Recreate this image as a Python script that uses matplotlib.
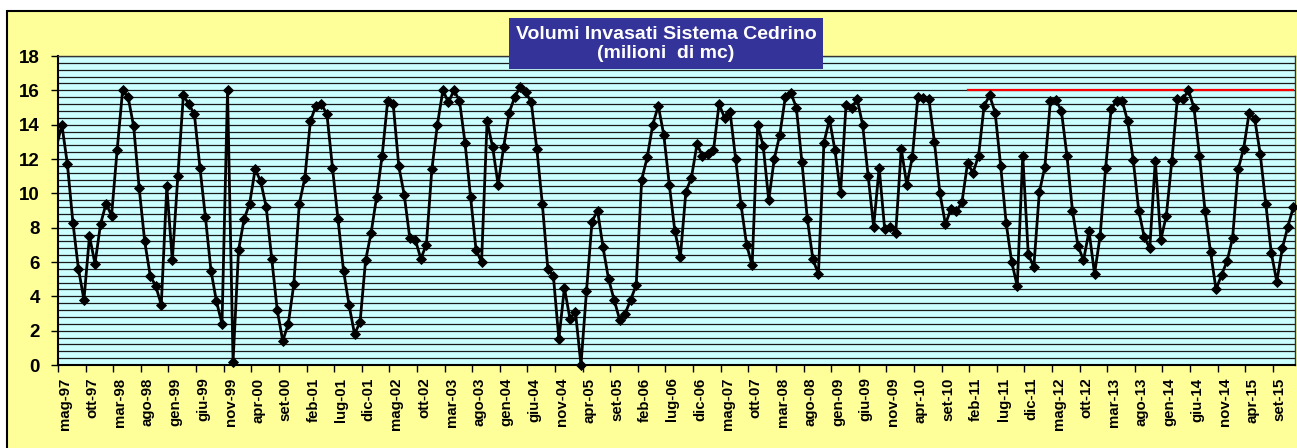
import numpy as np
import matplotlib
matplotlib.use('Agg')
import matplotlib.pyplot as plt
from matplotlib.patches import Rectangle
from matplotlib.ticker import MultipleLocator

plt.rcParams['font.family'] = ['Liberation Sans', 'DejaVu Sans']
plt.rcParams['font.weight'] = 'bold'

# =============================================================================
# data (milioni di mc), one value per month, first value = apr-97
# =============================================================================
volumi = [12.7,
    14.0, 11.7, 8.3, 5.6, 3.8, 7.5, 5.9, 8.2, 9.4, 8.7,
    12.5, 16.0, 15.6, 13.9, 10.3, 7.2, 5.2, 4.6, 3.5, 10.4,
    6.1, 11.0, 15.7, 15.2, 14.6, 11.5, 8.6, 5.5, 3.7, 2.4,
    16.0, 0.2, 6.7, 8.5, 9.4, 11.4, 10.7, 9.2, 6.2, 3.2,
    1.4, 2.4, 4.7, 9.4, 10.9, 14.2, 15.1, 15.2, 14.6, 11.5,
    8.5, 5.5, 3.5, 1.8, 2.5, 6.1, 7.7, 9.8, 12.2, 15.4,
    15.2, 11.6, 9.9, 7.4, 7.3, 6.2, 7.0, 11.4, 14.0, 16.0,
    15.3, 16.0, 15.4, 12.95, 9.8, 6.7, 6.0, 14.2, 12.7, 10.5,
    12.7, 14.7, 15.6, 16.2, 15.9, 15.3, 12.6, 9.4, 5.6, 5.2,
    1.5, 4.5, 2.7, 3.1, 0.0, 4.3, 8.35, 9.0, 6.85, 5.0,
    3.8, 2.65, 3.0, 3.8, 4.65, 10.8, 12.1, 14.0, 15.1, 13.4,
    10.5, 7.8, 6.3, 10.1, 10.9, 12.85, 12.2, 12.3, 12.5, 15.2,
    14.4, 14.75, 12.0, 9.3, 7.0, 5.8, 14.0, 12.75, 9.6, 12.0,
    13.4, 15.6, 15.85, 15.0, 11.85, 8.5, 6.15, 5.3, 12.95, 14.3,
    12.5, 10.0, 15.15, 14.95, 15.5, 14.0, 11.0, 8.05, 11.5, 7.9,
    8.05, 7.7, 12.6, 10.5, 12.1, 15.6, 15.55, 15.5, 13.0, 10.0,
    8.2, 9.1, 8.95, 9.5, 11.75, 11.2, 12.2, 15.1, 15.7, 14.7,
    11.6, 8.25, 6.0, 4.6, 12.2, 6.45, 5.7, 10.05, 11.55, 15.35,
    15.45, 14.8, 12.2, 9.0, 6.95, 6.1, 7.8, 5.3, 7.5, 11.45,
    14.9, 15.4, 15.4, 14.2, 11.95, 9.0, 7.45, 6.8, 11.9, 7.3,
    8.7, 11.9, 15.5, 15.5, 16.0, 15.0, 12.2, 9.0, 6.6, 4.4,
    5.25, 6.05, 7.4, 11.4, 12.6, 14.7, 14.35, 12.3, 9.4, 6.55,
    4.85, 6.8, 8.05, 9.2]
first_month = -1          # apr-97, axis starts at mag-97 = 0

tick_labels = ['mag-97', 'ott-97', 'mar-98', 'ago-98', 'gen-99', 'giu-99',
               'nov-99', 'apr-00', 'set-00', 'feb-01', 'lug-01', 'dic-01',
               'mag-02', 'ott-02', 'mar-03', 'ago-03', 'gen-04', 'giu-04',
               'nov-04', 'apr-05', 'set-05', 'feb-06', 'lug-06', 'dic-06',
               'mag-07', 'ott-07', 'mar-08', 'ago-08', 'gen-09', 'giu-09',
               'nov-09', 'apr-10', 'set-10', 'feb-11', 'lug-11', 'dic-11',
               'mag-12', 'ott-12', 'mar-13', 'ago-13', 'gen-14', 'giu-14',
               'nov-14', 'apr-15', 'set-15']
tick_step = 5             # months between labels
n_months = 224            # mag-97 .. dic-15

soglia = 16.0             # red reference line
soglia_start = 164        # gen-11

# =============================================================================
# plot
# =============================================================================
day_offset = 0.7          # points drawn late in the month
x = np.arange(first_month, first_month + len(volumi)) + day_offset

fig = plt.figure(figsize=(12.97, 4.48), dpi=100)
fig.patch.set_facecolor('white')

# yellow chart area with black frame
fig.add_artist(Rectangle((7/1297, -0.05), 1.1, 1 - 11/448 + 0.05,
                         transform=fig.transFigure, facecolor='#FFFF99',
                         edgecolor='black', lw=1.5, zorder=-1))

ax = fig.add_axes([58/1297, 1 - 365/448, (1295 - 58)/1297, 309/448])
ax.set_facecolor('#CCFFFF')
ax.set_axisbelow(True)

xs = np.arange(soglia_start, n_months) + day_offset
ax.plot(xs, [soglia]*len(xs), color='red', lw=1.6, zorder=2)

ax.plot(x, volumi, color='black', lw=2.0, zorder=3)
ax.plot(x[1:], volumi[1:], color='black', lw=0, marker='D', ms=5.0,
        mec='black', mew=0.6, zorder=4, clip_on=False)

ax.set_xlim(0, n_months)
ax.set_ylim(0, 18)
ax.set_yticks(np.arange(0, 19, 2))
ax.yaxis.set_minor_locator(MultipleLocator(0.4))
ax.grid(axis='y', which='both', color='#1a1a1a', lw=0.9)

ax.set_xticks(np.arange(0, len(tick_labels)*tick_step, tick_step))
ax.set_xticklabels(tick_labels, rotation=90, ha='left', fontsize=10.8,
                   fontweight='bold')
for lab in ax.get_yticklabels():
    lab.set_fontweight('bold')

ax.tick_params(axis='y', which='major', labelsize=13.5, pad=8, length=5,
               width=1, direction='out')
ax.tick_params(axis='y', which='minor', length=0)
ax.tick_params(axis='x', length=5, width=1, pad=4, direction='out')

for side in ['top', 'right']:
    ax.spines[side].set_color('#333333')
    ax.spines[side].set_linewidth(1.0)
for side in ['left', 'bottom']:
    ax.spines[side].set_color('black')
    ax.spines[side].set_linewidth(1.5)

# title box
fig.add_artist(Rectangle((509/1297, 1 - 69/448), (823 - 509)/1297, 51/448,
                         transform=fig.transFigure, facecolor='#333399',
                         edgecolor='none', zorder=5))
fig.text(666/1297, 1 - 44/448, 'Volumi Invasati Sistema Cedrino\n(milioni  di mc)',
         color='white', ha='center', va='center', fontsize=14,
         fontweight='bold', linespacing=1.15, zorder=6)

fig.savefig('out.png', dpi=100, facecolor=fig.get_facecolor())
